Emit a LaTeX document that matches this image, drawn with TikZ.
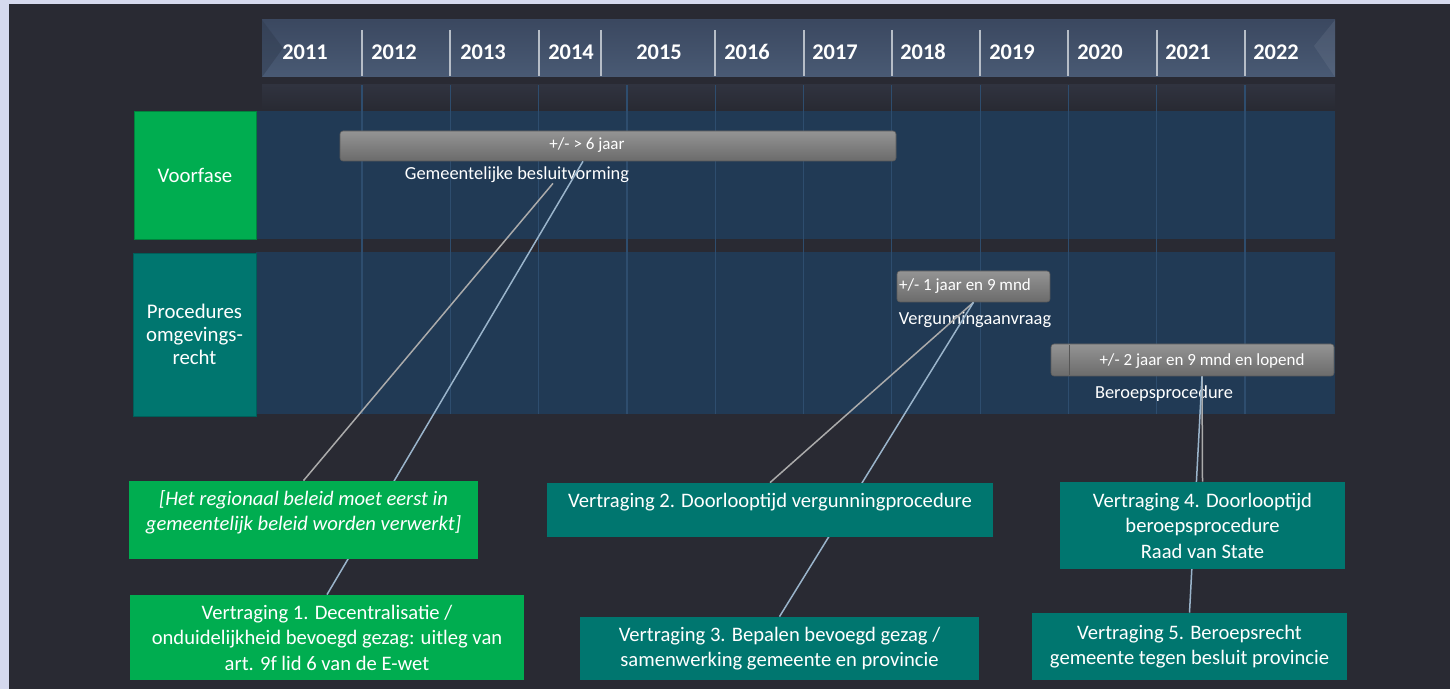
\documentclass[tikz,border=0pt]{standalone}
\usepackage{fontspec}
\setmainfont{Carlito}
\usepackage{tikz}
\usetikzlibrary{arrows}
\pgfdeclarelayer{front}
\pgfsetlayers{main,front}
\definecolor{paper}{HTML}{D5D9EE}
\definecolor{slate}{HTML}{292A33}
\definecolor{band}{HTML}{213A55}
\definecolor{gridblue}{HTML}{2E4D6E}
\definecolor{headtop}{HTML}{3B4860}
\definecolor{headbot}{HTML}{495A74}
\definecolor{striptop}{HTML}{30333F}
\definecolor{stripbot}{HTML}{282A33}
\definecolor{phasegreen}{HTML}{00AD50}
\definecolor{phaseteal}{HTML}{00766F}
\definecolor{bartop}{HTML}{949494}
\definecolor{barbot}{HTML}{6B6B6B}
\definecolor{linkgray}{HTML}{ABABAB}
\definecolor{linkblue}{HTML}{9AB4CB}

\begin{document}
\begin{tikzpicture}[x=0.5pt,y=-0.5pt]
			\tikzstyle{phase} = [
				rectangle, text = white, align = center, inner sep = 0pt,
				font = \fontsize{10.4}{11.5}\selectfont
			]
			\tikzstyle{delay} = [
				rectangle, text = white, align = center, inner sep = 0pt,
				font = \fontsize{10.3}{12.75}\selectfont
			]
			\tikzstyle{year} = [text = white, inner sep = 0pt, font = \fontsize{11.2}{13}\selectfont\bfseries]
			\tikzstyle{bar} = [
				rectangle, rounded corners = 1.5pt, inner sep = 0pt,
				top color = bartop, bottom color = barbot, draw = barbot!85!black, line width = 0.3pt
			]
			\tikzstyle{barlabel} = [text = white, inner sep = 0pt, font = \fontsize{8.5}{10}\selectfont]
			\tikzstyle{caption} = [text = white, inner sep = 0pt, font = \fontsize{9.2}{11}\selectfont]
			\tikzstyle{linkA} = [-, draw = linkgray, line width = 0.75pt]
			\tikzstyle{linkB} = [-, draw = linkblue, line width = 0.75pt]
			\useasboundingbox (0,0) rectangle (1450,689);
			\fill[paper] (0,0) rectangle (1450,689);
			\fill[slate] (9,4) rectangle (1450,689);
			\node[rectangle, inner sep = 0pt, top color = headtop, bottom color = headbot,
				minimum width = 536.5pt, minimum height = 28.5pt] (header) at (798.5,48.5) {};
			\fill[headtop!80!black, opacity = 0.45] (262,20) -- (283,48) -- (262,77) -- cycle;
			\fill[headbot!70!white, opacity = 0.2] (1335,20) -- (1314,46) -- (1335,77) -- cycle;
			\foreach \x in {362,450,539,601,715,804,892,980,1068,1157,1245}
				\draw[headbot!40!white, line width = 0.6pt] (\x,30) -- (\x,76);
			\foreach \yr/\xc in {2011/305,2012/394,2013/483,2014/571,2015/659,2016/747,
				2017/835,2018/923,2019/1012,2020/1100,2021/1188,2022/1276}
				\node[year] (y\yr) at (\xc,52) {\yr};
			\fill[top color = striptop, bottom color = stripbot] (262,85) rectangle (1335,110);
			\fill[band] (256,111) rectangle (1335,239);
			\fill[band] (256,252) rectangle (1335,414);
			\foreach \x in {362,450.3,538.6,626.9,715.2,803.5,891.8,980.1,1068.4,1156.7,1245}
				\draw[gridblue, line width = 0.6pt] (\x,85) -- (\x,414);
			\node[phase, fill = phasegreen, draw = phasegreen!75!black, line width = 0.4pt,
				minimum width = 61pt, minimum height = 64pt] (voorfase) at (195,175) {Voorfase};
			\node[phase, fill = phaseteal, draw = phaseteal!80!black, line width = 0.4pt,
				minimum width = 61.5pt, minimum height = 81.5pt] (procedures) at (194.5,334.5) {Procedures\\omgevings-\\recht};
			\node[bar, minimum width = 278pt, minimum height = 15pt] (bar1) at (618,146) {};
			\node[barlabel] (dur1) at (587,145) {+/- > 6 jaar};
			\node[caption] (gem) at (517,175) {Gemeentelijke besluitvorming};
			\node[bar, minimum width = 76.5pt, minimum height = 15.5pt] (bar2) at (973.5,286.5) {};
			\node[barlabel] (dur2) at (965,286) {+/- 1 jaar en 9 mnd};
			\node[caption] (verg) at (975,320) {Vergunningaanvraag};
			\node[bar, minimum width = 141.5pt, minimum height = 16pt] (bar3) at (1192.5,360) {};
			\draw[barbot!80!black, line width = 0.4pt] (1069,345) -- (1069,375);
			\node[barlabel] (dur3) at (1202,361) {+/- 2 jaar en 9 mnd en lopend};
			\node[caption] (beroep) at (1164,394) {Beroepsprocedure};
			\begin{pgfonlayer}{front}
			\node[delay, fill = phasegreen, minimum width = 174.5pt, minimum height = 39pt,
				text depth = 9.6pt, font = \fontsize{10.3}{12.75}\selectfont\itshape] (het) at (303.5,520)
				{[Het regionaal beleid moet eerst in\\gemeentelijk beleid worden verwerkt]};
			\node[delay, fill = phasegreen, minimum width = 197pt, minimum height = 42.5pt] (v1) at (327,637.5)
				{Vertraging 1. Decentralisatie /\\onduidelijkheid bevoegd gezag: uitleg van\\art. 9f lid 6 van de E-wet};
			\node[delay, fill = phaseteal, minimum width = 223pt, minimum height = 27pt,
				text depth = 9.6pt] (v2) at (770,510) {Vertraging 2. Doorlooptijd vergunningprocedure};
			\node[delay, fill = phaseteal, minimum width = 199.5pt, minimum height = 31.5pt] (v3) at (779.5,648.5)
				{Vertraging 3. Bepalen bevoegd gezag /\\samenwerking gemeente en provincie};
			\node[delay, fill = phaseteal, minimum width = 142.5pt, minimum height = 43.5pt] (v4) at (1202.5,525.5)
				{Vertraging 4. Doorlooptijd\\beroepsprocedure\\Raad van State};
			\node[delay, fill = phaseteal, minimum width = 157.5pt, minimum height = 33.5pt] (v5) at (1189.5,646.5)
				{Vertraging 5. Beroepsrecht\\gemeente tegen besluit provincie};
			\end{pgfonlayer}
			\draw ([xshift = 18pt]gem.south) to (het.north) [linkA];
			\draw ([xshift = -17.5pt]bar1.south) to (v1.north) [linkB];
			\draw (bar2.south) to (v2.north) [linkA];
			\draw (bar2.south) to (v3.north) [linkB];
			\draw ([xshift = 4.75pt]bar3.south) to (v4.north) [linkA];
			\draw ([xshift = 4.75pt]bar3.south) to (v5.north) [linkB];
		\end{tikzpicture}
\end{document}
